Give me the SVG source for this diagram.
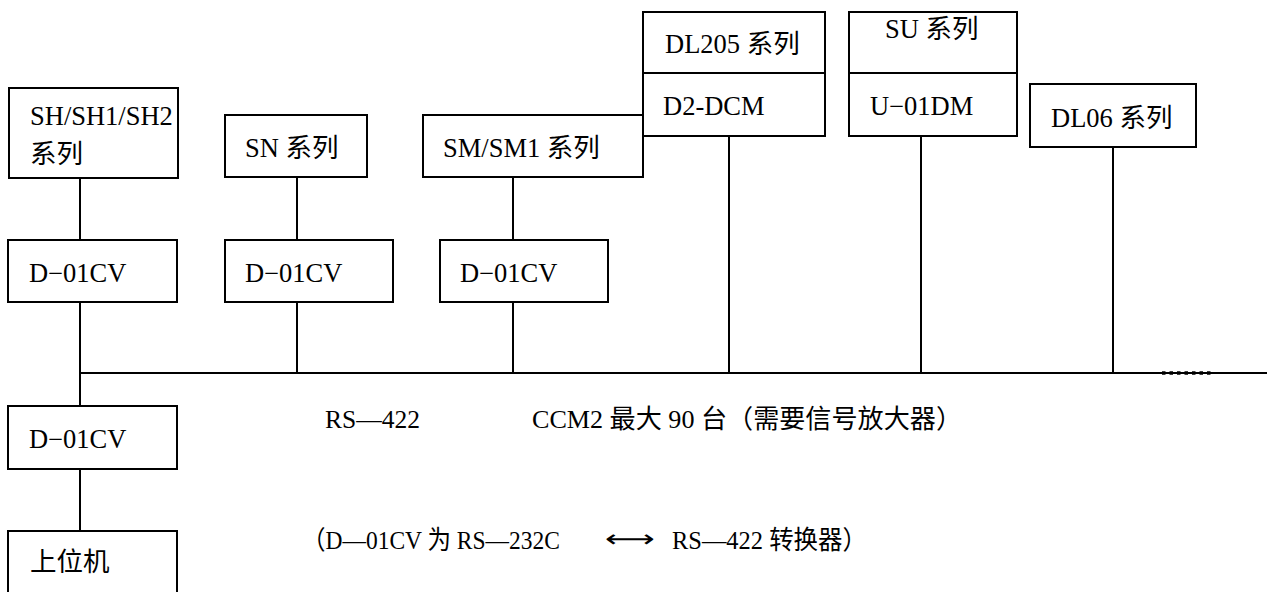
<svg xmlns="http://www.w3.org/2000/svg" width="1267" height="592" viewBox="0 0 1267 592">
<style>
.box{fill:#fff;stroke:#000;stroke-width:2}
.ln{stroke:#000;stroke-width:2;fill:none}
.t{font-family:"Liberation Serif","Noto Sans CJK SC",serif;font-size:26.5px;fill:#000}
.s{font-family:"Liberation Serif","Noto Sans CJK SC",serif;font-size:26px;fill:#000}
</style>
<rect width="1267" height="592" fill="#fff"/>
<g id="connectors">
<line class="ln" x1="80" y1="178" x2="80" y2="240"/>
<line class="ln" x1="80" y1="302" x2="80" y2="406"/>
<line class="ln" x1="80" y1="469" x2="80" y2="531"/>
<line class="ln" x1="80" y1="373" x2="1267" y2="373"/>
<line class="ln" x1="297" y1="177" x2="297" y2="240"/>
<line class="ln" x1="297" y1="302" x2="297" y2="373"/>
<line class="ln" x1="513" y1="177" x2="513" y2="240"/>
<line class="ln" x1="513" y1="302" x2="513" y2="373"/>
<line class="ln" x1="729" y1="136" x2="729" y2="373"/>
<line class="ln" x1="921" y1="136" x2="921" y2="373"/>
<line class="ln" x1="1113" y1="147" x2="1113" y2="373"/>
<line x1="1162" y1="373" x2="1214" y2="373" stroke="#000" stroke-width="3.5" stroke-dasharray="3.5 4"/>
</g>
<g id="sh">
<rect class="box" x="9" y="88" width="169" height="90"/>
<text class="t" x="30" y="125">SH/SH1/SH2</text>
<text class="t" x="30" y="163">系列</text>
</g>
<g id="cv1">
<rect class="box" x="8" y="240" width="169" height="62"/>
<text class="t" x="29" y="282">D−01CV</text>
</g>
<g id="sn">
<rect class="box" x="225" y="115" width="142" height="62"/>
<text class="t" x="245" y="157">SN 系列</text>
</g>
<g id="cv2">
<rect class="box" x="225" y="240" width="168" height="62"/>
<text class="t" x="245" y="282">D−01CV</text>
</g>
<g id="sm">
<rect class="box" x="423" y="115" width="220" height="62"/>
<text class="t" x="443" y="157">SM/SM1 系列</text>
</g>
<g id="cv3">
<rect class="box" x="440" y="240" width="168" height="62"/>
<text class="t" x="460" y="282">D−01CV</text>
</g>
<g id="dl205">
<rect class="box" x="643" y="12" width="182" height="61"/>
<rect class="box" x="643" y="73" width="182" height="63"/>
<text class="t" x="665" y="53">DL205 系列</text>
<text class="t" x="663" y="115">D2-DCM</text>
</g>
<g id="su">
<rect class="box" x="849" y="12" width="168" height="61"/>
<rect class="box" x="849" y="73" width="168" height="63"/>
<text class="t" x="885" y="38">SU 系列</text>
<text class="t" x="870" y="115">U−01DM</text>
</g>
<g id="dl06">
<rect class="box" x="1030" y="84" width="166" height="63"/>
<text class="t" x="1051" y="127">DL06 系列</text>
</g>
<g id="cv4">
<rect class="box" x="8" y="406" width="169" height="63"/>
<text class="t" x="29" y="448">D−01CV</text>
</g>
<g id="host">
<rect class="box" x="8" y="531" width="169" height="70"/>
<text class="t" x="30" y="571">上位机</text>
</g>
<g id="labels">
<text class="s" x="325" y="428" textLength="95" lengthAdjust="spacingAndGlyphs">RS—422</text>
<text class="s" x="532" y="428" textLength="430" lengthAdjust="spacingAndGlyphs">CCM2 最大 90 台（需要信号放大器）</text>
<text class="s" x="302" y="549" textLength="258" lengthAdjust="spacingAndGlyphs">（D—01CV 为 RS—232C</text>
<text x="605" y="547" font-family="DejaVu Sans, sans-serif" font-size="24" textLength="50" lengthAdjust="spacingAndGlyphs">⟷</text>
<text class="s" x="672" y="549" textLength="195" lengthAdjust="spacingAndGlyphs">RS—422 转换器）</text>
</g>
</svg>
